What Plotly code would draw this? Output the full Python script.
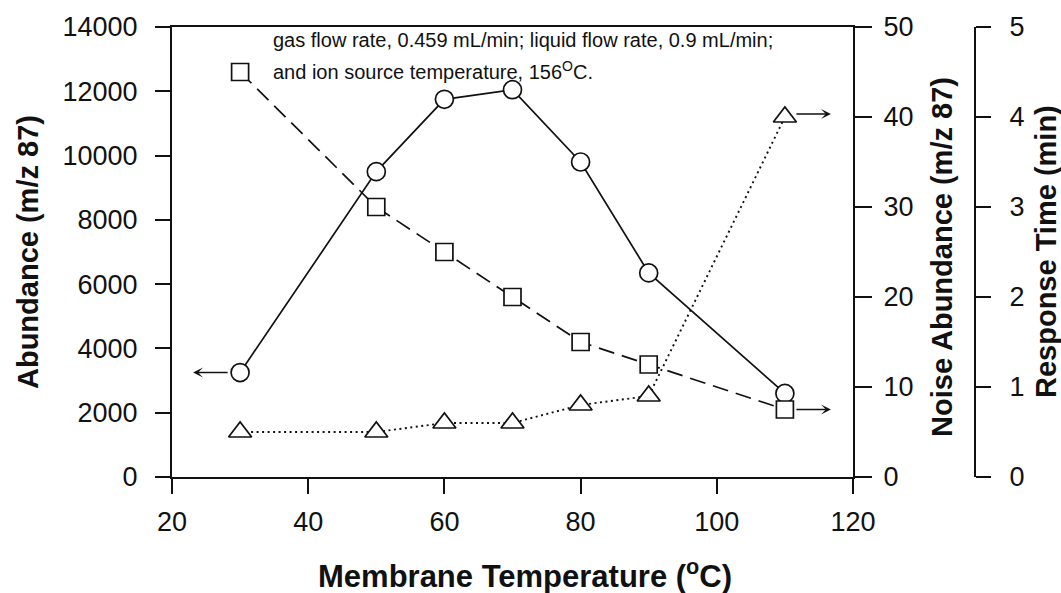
import plotly.graph_objects as go

# Membrane temperature series (°C) and the three measured responses
temperature = [30, 50, 60, 70, 80, 90, 110]
abundance = [3250, 9500, 11750, 12050, 9800, 6350, 2600]   # m/z 87, left axis
noise = [45, 30, 25, 20, 15, 12.5, 7.5]                     # noise abundance, right axis
response = [0.5, 0.5, 0.6, 0.6, 0.8, 0.9, 4.0]              # response time (min), outer right axis

x_ticks = [20, 40, 60, 80, 100, 120]
y_ticks = [0, 2000, 4000, 6000, 8000, 10000, 12000, 14000]
noise_ticks = [0, 10, 20, 30, 40, 50]
resp_ticks = [0, 1, 2, 3, 4, 5]

FONT = "Liberation Sans, Arial, Helvetica, sans-serif"
INK = "#111111"

W, H = 1061, 593
ML, MR, MT, MB = 172, 86, 23, 116
plot_w = W - ML - MR
x_end = 681 / plot_w  # main frame ends here; outer axis sits at the paper edge

fig = go.Figure()

fig.add_trace(go.Scatter(
    x=temperature, y=abundance, mode="lines+markers", yaxis="y",
    line=dict(color=INK, width=1.7),
    marker=dict(symbol="circle", size=18, color="white", line=dict(color=INK, width=1.7)),
    showlegend=False,
))
fig.add_trace(go.Scatter(
    x=temperature, y=noise, mode="lines+markers", yaxis="y2",
    line=dict(color=INK, width=1.7, dash="16px,8px"),
    marker=dict(symbol="square", size=17, color="white", line=dict(color=INK, width=1.7)),
    showlegend=False,
))
fig.add_trace(go.Scatter(
    x=temperature, y=response, mode="lines+markers", yaxis="y3",
    line=dict(color=INK, width=1.9, dash="2px,3.5px"),
    marker=dict(symbol="triangle-up", size=20, color="white", line=dict(color=INK, width=1.7)),
    showlegend=False,
))

tick_font = dict(family=FONT, size=27, color=INK)

fig.update_layout(
    width=W, height=H, autosize=False,
    margin=dict(l=ML, r=MR, t=MT, b=MB),
    paper_bgcolor="white", plot_bgcolor="white",
    xaxis=dict(
        domain=[0, x_end], range=[20, 120], tickvals=x_ticks,
        showline=True, linecolor=INK, linewidth=2, mirror=True,
        ticks="outside", ticklen=15, tickwidth=2, tickcolor=INK,
        tickfont=tick_font, showgrid=False, zeroline=False,
        ticklabelstandoff=5,
    ),
    yaxis=dict(
        range=[0, 14000], tickvals=y_ticks, tickformat="d",
        showline=True, linecolor=INK, linewidth=2,
        ticks="outside", ticklen=15, tickwidth=2, tickcolor=INK,
        tickfont=tick_font, showgrid=False, zeroline=False,
        ticklabelstandoff=12,
    ),
    yaxis2=dict(
        range=[0, 50], tickvals=noise_ticks, overlaying="y", side="right", anchor="x",
        showline=True, linecolor=INK, linewidth=2,
        ticks="outside", ticklen=17, tickwidth=2, tickcolor=INK,
        tickfont=tick_font, showgrid=False, zeroline=False,
        ticklabelstandoff=6,
    ),
    yaxis3=dict(
        range=[0, 5], tickvals=resp_ticks, overlaying="y", side="right",
        anchor="free", position=1.0,
        showline=True, linecolor=INK, linewidth=2,
        ticks="outside", ticklen=15, tickwidth=2, tickcolor=INK,
        tickfont=tick_font, showgrid=False, zeroline=False,
        ticklabelstandoff=13,
    ),
)

def px_x(p):
    return (p - ML) / plot_w

def px_y(p):
    return (H - MB - p) / (H - MT - MB)

annotations = [
    # axis titles
    dict(text="<b>Membrane Temperature (<sup>o</sup>C)</b>", x=px_x(525), y=px_y(575),
         xref="paper", yref="paper", showarrow=False,
         font=dict(family=FONT, size=31, color=INK),
         xanchor="center", yanchor="middle"),
    dict(text="<b>Abundance (m/z 87)</b>", x=px_x(28), y=px_y(250),
         xref="paper", yref="paper", showarrow=False,
         font=dict(family=FONT, size=29, color=INK), textangle=-90,
         xanchor="center", yanchor="middle"),
    dict(text="<b>Noise Abundance (m/z 87)</b>", x=px_x(942), y=px_y(255),
         xref="paper", yref="paper", showarrow=False,
         font=dict(family=FONT, size=29, color=INK), textangle=-90,
         xanchor="center", yanchor="middle"),
    dict(text="<b>Response Time (min)</b>", x=px_x(1046), y=px_y(250),
         xref="paper", yref="paper", showarrow=False,
         font=dict(family=FONT, size=29, color=INK), textangle=-90,
         xanchor="center", yanchor="middle"),
    # operating conditions note
    dict(text="gas flow rate, 0.459 mL/min; liquid flow rate, 0.9 mL/min;",
         x=px_x(271), y=px_y(36), xref="paper", yref="paper", showarrow=False,
         font=dict(family=FONT, size=20, color=INK), xanchor="left", yanchor="middle"),
    dict(text="and ion source temperature, 156<sup>O</sup>C.",
         x=px_x(271), y=px_y(67), xref="paper", yref="paper", showarrow=False,
         font=dict(family=FONT, size=20, color=INK), xanchor="left", yanchor="middle"),
]

# arrows pointing each series to its own axis
arrow_style = dict(showarrow=True, text="", arrowhead=3, arrowsize=1.1, arrowwidth=1.5,
                   arrowcolor=INK, ayref="pixel", axref="pixel", standoff=0)
annotations.append(dict(x=temperature[0], y=abundance[0], xref="x", yref="y",
                        xshift=-47, ax=36, ay=0, **arrow_style))
annotations.append(dict(x=temperature[-1], y=noise[-1], xref="x", yref="y2",
                        xshift=46, ax=-36, ay=0, **arrow_style))
annotations.append(dict(x=temperature[-1], y=response[-1], xref="x", yref="y3",
                        xshift=46, yshift=3, ax=-36, ay=0, **arrow_style))

fig.update_layout(annotations=annotations)

fig.write_html("out.html")
